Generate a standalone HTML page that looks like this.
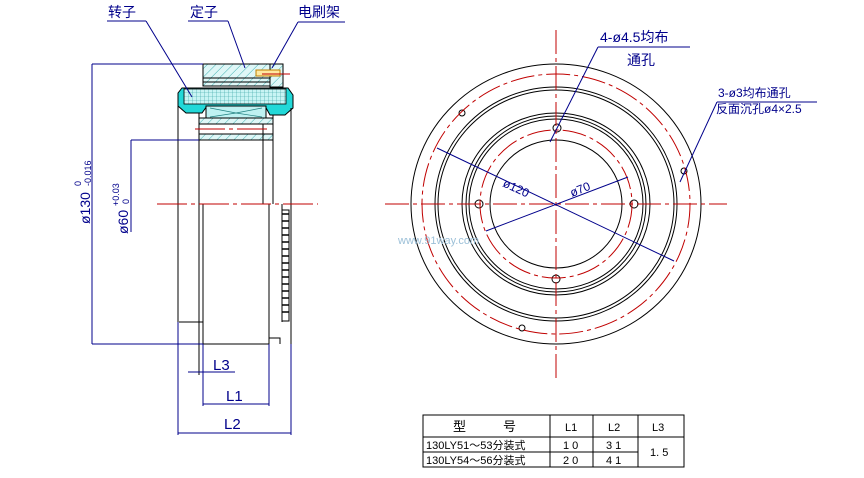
<!DOCTYPE html>
<html><head><meta charset="utf-8"><style>
html,body{margin:0;padding:0;background:#fff;}
svg{display:block;}
text{font-family:"Liberation Sans","Noto Sans CJK SC",sans-serif;fill:#00008b;}
</style></head><body>
<svg width="864" height="478" viewBox="0 0 864 478" xmlns="http://www.w3.org/2000/svg">
<defs>
<pattern id="hatch" width="6" height="6" patternUnits="userSpaceOnUse" patternTransform="rotate(45)">
<rect width="6" height="6" fill="#dff7f7"/><line x1="0" y1="0" x2="0" y2="6" stroke="#40b0b0" stroke-width="1"/></pattern>
<pattern id="grid" width="4" height="4" patternUnits="userSpaceOnUse">
<rect width="4" height="4" fill="#c8f4f4"/><path d="M0 0H4M0 0V4" stroke="#30a0a0" stroke-width="0.6"/></pattern>
</defs>

<!-- LEFT VIEW -->
<g stroke="#000" stroke-width="1" fill="none">
<!-- stator -->
<rect x="203" y="64" width="67" height="22" fill="url(#hatch)"/>
<line x1="203" y1="78" x2="270" y2="78"/><line x1="203" y1="82" x2="270" y2="82"/>
<rect x="270" y="64" width="13" height="23" fill="url(#hatch)"/>
<rect x="256" y="70" width="24" height="6" fill="#ffe9a0" stroke="#c08000"/>
<!-- rotor cyan -->
<path d="M182 88 H288 L293 95 V108 L285 115 H270 L265 106 H207 L202 113 H186 L178 106 V93 Z" fill="#22d8d8"/>
<rect x="184" y="89" width="102" height="15" fill="url(#grid)" stroke="#000" stroke-width="0.8"/>
<path d="M206 106 H266 V118 H206 Z" fill="#bff2f2"/>
<path d="M210 108 L236 113 L262 108 M210 117 L236 113 L262 117" stroke="#208080" stroke-width="0.7"/>
<!-- bands -->
<rect x="199" y="118" width="74" height="6" fill="url(#hatch)"/>
<rect x="199" y="134" width="74" height="6" fill="url(#hatch)"/>
<!-- outlines -->
<line x1="178" y1="106" x2="178" y2="322"/>
<line x1="199" y1="113" x2="199" y2="375"/>
<line x1="203" y1="204" x2="203" y2="344"/>
<line x1="263" y1="124" x2="263" y2="204"/>
<line x1="273" y1="115" x2="273" y2="204"/>
<line x1="291" y1="108" x2="291" y2="344"/>
<line x1="269" y1="204" x2="269" y2="344"/>
<line x1="282" y1="204" x2="282" y2="322"/>
<line x1="179" y1="322" x2="203" y2="322"/>
<line x1="203" y1="344" x2="269" y2="344"/>
<path d="M269 344 V338 H280 V344"/>
<rect x="282" y="210" width="7" height="111"/>
</g>
<g stroke="#000" stroke-width="1.5">
<line x1="282" y1="214" x2="289" y2="214"/><line x1="282" y1="221" x2="289" y2="221"/><line x1="282" y1="228" x2="289" y2="228"/><line x1="282" y1="235" x2="289" y2="235"/><line x1="282" y1="242" x2="289" y2="242"/><line x1="282" y1="249" x2="289" y2="249"/><line x1="282" y1="256" x2="289" y2="256"/><line x1="282" y1="263" x2="289" y2="263"/><line x1="282" y1="270" x2="289" y2="270"/><line x1="282" y1="277" x2="289" y2="277"/><line x1="282" y1="284" x2="289" y2="284"/><line x1="282" y1="291" x2="289" y2="291"/><line x1="282" y1="298" x2="289" y2="298"/><line x1="282" y1="305" x2="289" y2="305"/><line x1="282" y1="312" x2="289" y2="312"/>
</g>
<g stroke="#c00000" stroke-width="1" stroke-dasharray="30 4 4 4">
<line x1="157" y1="204" x2="318" y2="204"/>
<line x1="195" y1="129" x2="270" y2="129"/>
<line x1="262" y1="74" x2="290" y2="74"/>
</g>
<!-- dims left -->
<g stroke="#00008b" stroke-width="1" fill="none">
<line x1="92" y1="64" x2="203" y2="64"/>
<line x1="92" y1="64" x2="92" y2="344"/>
<line x1="92" y1="344" x2="203" y2="344"/>
<line x1="131" y1="140" x2="199" y2="140"/>
<line x1="131" y1="140" x2="131" y2="232"/>
<line x1="178" y1="322" x2="178" y2="435"/>
<line x1="291" y1="344" x2="291" y2="435"/>
<line x1="203" y1="344" x2="203" y2="406"/>
<line x1="269" y1="344" x2="269" y2="406"/>
<line x1="188" y1="372" x2="235" y2="372"/>
<line x1="203" y1="404" x2="269" y2="404"/>
<line x1="178" y1="433" x2="291" y2="433"/>
<line x1="107" y1="21" x2="146" y2="21"/><line x1="146" y1="21" x2="192" y2="97"/>
<line x1="188" y1="21" x2="228" y2="21"/><line x1="228" y1="21" x2="245" y2="68"/>
<line x1="298" y1="22" x2="345" y2="22"/><line x1="298" y1="22" x2="272" y2="68"/>
</g>
<text x="108" y="17" font-size="14">转子</text>
<text x="190" y="17" font-size="14">定子</text>
<text x="298" y="17" font-size="14">电刷架</text>
<text x="213" y="370" font-size="15" font-family="Liberation Serif">L3</text>
<text x="226" y="401" font-size="15" font-family="Liberation Serif">L1</text>
<text x="224" y="429" font-size="15" font-family="Liberation Serif">L2</text>
<g transform="translate(90,224) rotate(-90)"><text font-size="14">ø130</text><text x="38" y="-9" font-size="9">0</text><text x="38" y="1" font-size="9">-0.016</text></g>
<g transform="translate(128,234) rotate(-90)"><text font-size="14">ø60</text><text x="28" y="-9" font-size="9">+0.03</text><text x="30" y="1" font-size="9">0</text></g>

<!-- RIGHT VIEW -->
<g fill="none" stroke="#000" stroke-width="1">
<ellipse cx="556" cy="204" rx="145" ry="140"/>
<ellipse cx="556" cy="204" rx="121" ry="117"/>
<ellipse cx="556" cy="204" rx="118" ry="114"/>
<ellipse cx="556" cy="204" rx="94" ry="91"/>
<ellipse cx="556" cy="204" rx="90" ry="88"/>
<ellipse cx="556" cy="204" rx="87" ry="85"/>
<ellipse cx="556" cy="204" rx="66" ry="64"/>
<circle cx="557" cy="128" r="4"/><circle cx="479" cy="204" r="4"/><circle cx="634" cy="204" r="4"/><circle cx="556" cy="279" r="4"/>
<circle cx="462" cy="113" r="3"/><circle cx="684" cy="171" r="3"/><circle cx="522" cy="328" r="3"/>
</g>
<g fill="none" stroke="#c00000" stroke-width="1" stroke-dasharray="24 4 4 4">
<ellipse cx="556" cy="204" rx="134" ry="130"/>
<ellipse cx="556" cy="204" rx="76" ry="74"/>
<line x1="385" y1="204" x2="727" y2="204"/>
<line x1="556" y1="30" x2="556" y2="380"/>
</g>
<g stroke="#00008b" stroke-width="1" fill="none">
<line x1="437" y1="148" x2="674" y2="261"/>
<line x1="486" y1="231" x2="628" y2="177"/>
<line x1="550" y1="142" x2="598" y2="47"/><line x1="598" y1="47" x2="690" y2="47"/>
<line x1="680" y1="182" x2="717" y2="102"/><line x1="717" y1="102" x2="817" y2="102"/>
</g>
<text x="502" y="186" font-size="12" transform="rotate(25 502 186)">ø120</text>
<text x="572" y="197" font-size="12" transform="rotate(-22 572 197)">ø70</text>
<text x="600" y="42" font-size="14">4-ø4.5均布</text>
<text x="627" y="65" font-size="14">通孔</text>
<text x="718" y="97" font-size="12">3-ø3均布通孔</text>
<text x="716" y="113" font-size="12">反面沉孔ø4×2.5</text>
<text x="398" y="244" font-size="11" font-family="Liberation Mono" style="fill:#9cc0d8">www.91way.com</text>

<!-- TABLE -->
<g stroke="#000" stroke-width="1" fill="none">
<rect x="423" y="415" width="261" height="52"/>
<line x1="423" y1="437" x2="638" y2="437"/>
<line x1="423" y1="452" x2="638" y2="452"/>
<line x1="638" y1="437" x2="684" y2="437"/>
<line x1="550" y1="415" x2="550" y2="467"/>
<line x1="593" y1="415" x2="593" y2="467"/>
<line x1="638" y1="415" x2="638" y2="467"/>
</g>
<g font-size="11" style="fill:#000">
<text x="453" y="431" style="fill:#000" font-size="13">型</text>
<text x="503" y="431" style="fill:#000" font-size="13">号</text>
<text x="565" y="431" style="fill:#000" font-family="Liberation Serif">L1</text>
<text x="608" y="431" style="fill:#000" font-family="Liberation Serif">L2</text>
<text x="652" y="431" style="fill:#000" font-family="Liberation Serif">L3</text>
<text x="426" y="449" style="fill:#000">130LY51～53分装式</text>
<text x="426" y="464" style="fill:#000">130LY54～56分装式</text>
<text x="563" y="449" style="fill:#000">1 0</text>
<text x="606" y="449" style="fill:#000">3 1</text>
<text x="563" y="464" style="fill:#000">2 0</text>
<text x="606" y="464" style="fill:#000">4 1</text>
<text x="650" y="456" style="fill:#000">1. 5</text>
</g>
</svg>
</body></html>
